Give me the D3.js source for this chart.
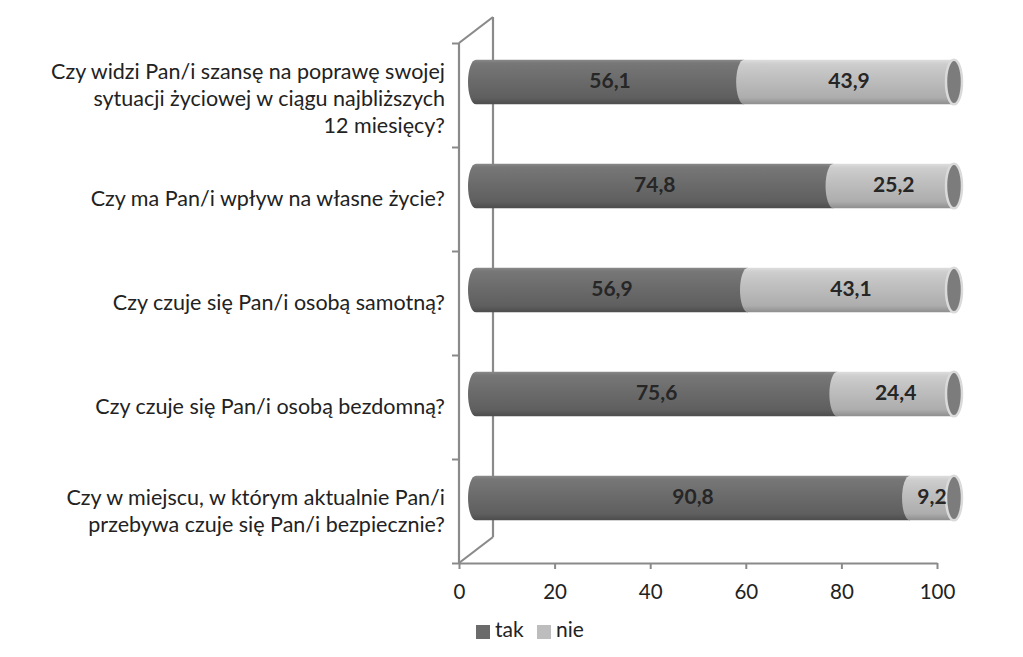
<!DOCTYPE html>
<html><head><meta charset="utf-8">
<script src="https://cdn.jsdelivr.net/npm/d3@7"></script>
<style>body{margin:0;background:#fff}svg{display:block}</style>
</head><body><svg id="c" width="1023" height="657"></svg>
<script>
const categories = [
  ["Czy widzi Pan/i szansę na poprawę swojej","sytuacji życiowej w ciągu najbliższych","12 miesięcy?"],
  ["Czy ma Pan/i wpływ na własne życie?"],
  ["Czy czuje się Pan/i osobą samotną?"],
  ["Czy czuje się Pan/i osobą bezdomną?"],
  ["Czy w miejscu, w którym aktualnie Pan/i","przebywa czuje się Pan/i bezpiecznie?"]
];
const tak = [56.1, 74.8, 56.9, 75.6, 90.8];
const nie = [43.9, 25.2, 43.1, 24.4, 9.2];
const seriesNames = ["tak", "nie"];
const xTicks = [0, 20, 40, 60, 80, 100];

const svg = d3.select("#c");
const font = "Lato, 'Open Sans', sans-serif";
const x = d3.scaleLinear().domain([0, 100]).range([459, 937]);
const idx = categories.map((c, i) => i);
const y = d3.scaleBand().domain(idx).range([43, 563]);
const dxDepth = 34, dyDepth = -26;
const hx = dxDepth / 2, hy = dyDepth / 2;
const barH = y.bandwidth() * 0.43, ry = barH / 2, rx = 8;

const defs = svg.append("defs");
function grad(id, stops) {
  const g = defs.append("linearGradient").attr("id", id).attr("x1", 0).attr("y1", 0).attr("x2", 0).attr("y2", 1);
  stops.forEach(s => g.append("stop").attr("offset", s[0]).attr("stop-color", s[1]));
}
grad("gTak", [[0, "#8a8a8a"], [0.08, "#777777"], [0.45, "#6b6b6b"], [0.85, "#5f5f5f"], [1, "#4c4c4c"]]);
grad("gNie", [[0, "#dedede"], [0.1, "#cdcdcd"], [0.45, "#bdbdbd"], [0.85, "#adadad"], [1, "#8e8e8e"]]);
const lineCol = "#8a8a8a";

// walls
const wall = svg.append("g").attr("stroke", lineCol).attr("stroke-width", 2.2).attr("fill", "none");
wall.append("line").attr("x1", x(0)).attr("x2", x(0)).attr("y1", y.range()[0]).attr("y2", y.range()[1]);
wall.append("line").attr("x1", x(0) + dxDepth).attr("x2", x(0) + dxDepth).attr("y1", y.range()[0] + dyDepth).attr("y2", y.range()[1] + dyDepth);
wall.append("line").attr("x1", x(0)).attr("x2", x(0) + dxDepth).attr("y1", y.range()[0]).attr("y2", y.range()[0] + dyDepth);
wall.append("line").attr("x1", x(0)).attr("x2", x(0) + dxDepth).attr("y1", y.range()[1]).attr("y2", y.range()[1] + dyDepth);

// left ticks at band boundaries
const yb = d3.scaleLinear().domain([0, categories.length]).range(y.range());
const la = svg.append("g").attr("transform", `translate(${x(0)},0)`)
  .call(d3.axisLeft(yb).ticks(categories.length).tickFormat("").tickSize(7).tickSizeOuter(0));
la.select(".domain").remove();
la.selectAll("line").attr("stroke", lineCol).attr("stroke-width", 2);

// bottom axis
const ba = svg.append("g").attr("transform", `translate(0,${y.range()[1]})`)
  .call(d3.axisBottom(x).tickValues(xTicks).tickSize(6).tickSizeOuter(0).tickPadding(15));
ba.select(".domain").attr("stroke", lineCol).attr("stroke-width", 2.2);
ba.selectAll("line").attr("stroke", lineCol).attr("stroke-width", 2);
ba.selectAll("text").attr("font-family", font).attr("font-size", 20.5).attr("fill", "#222");

// category labels
categories.forEach((lines, i) => {
  const cy = y(i) + y.bandwidth() / 2 + (lines.length > 2 ? 4 : 0);
  const lh = 27;
  const t = svg.append("text").attr("text-anchor", "end").attr("font-family", font)
    .attr("font-size", 21.5).attr("fill", "#222");
  lines.forEach((ln, j) => {
    t.append("tspan").attr("x", 445).attr("y", cy + (j - (lines.length - 1) / 2) * lh + 2)
      .attr("dominant-baseline", "middle").text(ln);
  });
});

// cylinders
function segPath(x0, x1, cy) {
  return `M${x0},${cy - ry} L${x1},${cy - ry} L${x1},${cy + ry} L${x0},${cy + ry} A${rx},${ry} 0 0 1 ${x0},${cy - ry} Z`;
}
const bars = svg.append("g");
idx.forEach(i => {
  const cy = y(i) + y.bandwidth() / 2 + hy;
  const a0 = x(0) + hx, a1 = x(tak[i]) + hx, a2 = x(tak[i] + nie[i]) + hx;
  bars.append("path").attr("d", segPath(a0, a1, cy)).attr("fill", "url(#gTak)");
  bars.append("path").attr("d", segPath(a1, a2, cy)).attr("fill", "url(#gNie)");
  bars.append("ellipse").attr("cx", a2).attr("cy", cy).attr("rx", rx).attr("ry", ry)
    .attr("fill", "#7c7c7c").attr("stroke", "#dadada").attr("stroke-width", 2.5);
  const lbl = (v, s, e) => bars.append("text").attr("x", (s + e) / 2).attr("y", cy + 1)
    .attr("text-anchor", "middle").attr("dominant-baseline", "middle")
    .attr("font-family", font).attr("font-weight", "bold").attr("font-size", 21).attr("fill", "#262626")
    .text(d3.format(".1f")(v).replace(".", ","));
  lbl(tak[i], a0, a1);
  lbl(nie[i], a1, a2);
});

// legend
const lg = svg.append("g");
const legCols = ["#6b6b6b", "#bdbdbd"];
const legX = [476, 537];
seriesNames.forEach((n, k) => {
  lg.append("rect").attr("x", legX[k]).attr("y", 625).attr("width", 14).attr("height", 14).attr("fill", legCols[k]);
  lg.append("text").attr("x", legX[k] + 19).attr("y", 632).attr("dominant-baseline", "middle")
    .attr("font-family", font).attr("font-size", 21).attr("fill", "#222").text(n);
});
</script></body></html>
